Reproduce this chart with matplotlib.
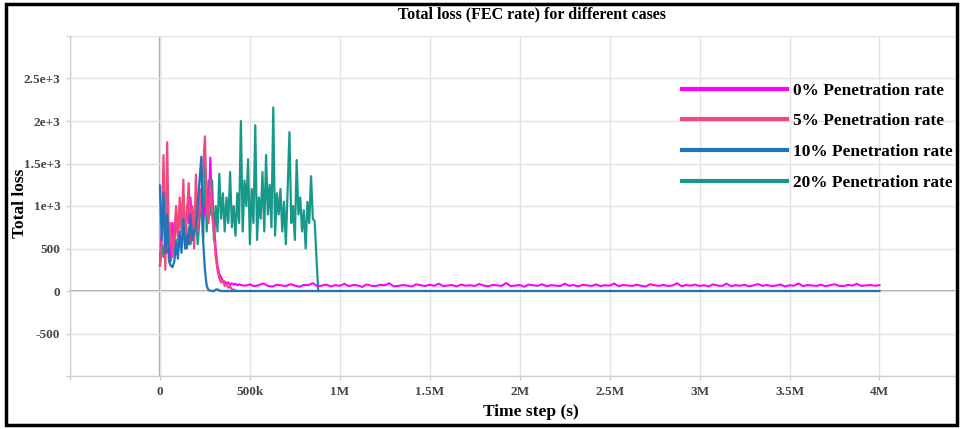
#!/usr/bin/env python3
import numpy as np
import matplotlib
matplotlib.use("Agg")
import matplotlib.pyplot as plt
from matplotlib.patches import Rectangle
from matplotlib.ticker import FixedLocator, FixedFormatter

# time grid step used for the early part of every run (seconds)
STEP = 10000
TAIL_STEP = 25000

series_names = ["0% Penetration rate", "5% Penetration rate",
                "10% Penetration rate", "20% Penetration rate"]
series_colors = ["#ff00ff", "#ee4a7c", "#1f74bb", "#17998a"]

# 0% penetration: early part (10k steps) + long noisy tail (25k steps)
loss_0_early = [350, 700, 1200, 500, 900, 600, 400, 800, 550, 900,
                650, 1000, 750, 850, 600, 1000, 800, 1100, 700, 950,
                800, 1100, 900, 1200, 850, 950, 1100, 850, 1570, 900,
                800, 500, 300, 200, 160, 120, 110, 90, 100, 70,
                90, 75, 85, 65, 80, 70]
loss_0_tail = [62, 78, 55, 70, 88, 60, 52, 74, 66, 58,
               80, 64, 50, 72, 68, 92, 57, 63, 75, 54,
               69, 61, 84, 56, 71, 65, 48, 77, 62, 58,
               73, 66, 90, 55, 60, 70, 64, 52, 79, 67,
               58, 74, 61, 86, 57, 65, 70, 53, 76, 62,
               68, 59, 82, 64, 55, 72, 66, 60, 94, 58,
               63, 71, 50, 75, 67, 61, 79, 56, 69, 64,
               58, 85, 62, 70, 54, 73, 66, 60, 77, 57,
               68, 63, 88, 55, 71, 65, 59, 74, 62, 52,
               80, 67, 61, 72, 58, 66, 91, 56, 70, 63,
               75, 59, 68, 54, 78, 64, 60, 86, 57, 69,
               62, 73, 55, 66, 81, 60, 71, 58, 64, 76,
               53, 68, 62, 89, 57, 70, 65, 60, 74, 56,
               67, 79, 61, 58, 72, 64, 84, 59, 66, 70,
               62, 68]

loss_5 = [300, 600, 1600, 250, 1750, 500, 800, 400, 700, 1000,
          600, 1100, 700, 1310, 500, 900, 1270, 600, 1000, 500,
          1370, 700, 1200, 900, 1450, 1820, 1000, 800, 1300, 900,
          700, 400, 250, 150, 100, 120, 60, 80, 40, 50,
          20, 15, 5, 0]

loss_10 = [1240, 600, 1150, 450, 900, 350, 300, 280, 350, 550,
           380, 700, 450, 850, 500, 650, 550, 900, 600, 700,
           750, 1000, 1300, 1580, 600, 250, 60, 10, 5, 0,
           0, 15, 20, 5, 0, 0, 0, 0, 0, 0,
           0, 0, 0, 0, 0, 0]
loss_10_end = 0

loss_20 = [300, 550, 400, 650, 450, 500, 350, 500, 450, 600,
           500, 650, 550, 700, 600, 500, 750, 550, 700, 650,
           900, 550, 850, 1050, 600, 1500, 700, 1300, 900, 1300,
           600, 1000, 700, 1380, 850, 1150, 700, 1100, 800, 1400,
           750, 1000, 650, 1150, 800, 2000, 700, 1300, 1000, 1550,
           550, 1200, 800, 1950, 600, 1100, 850, 1400, 700, 1600,
           900, 1250, 750, 2160, 650, 1150, 900, 1200, 700, 1050,
           550, 1200, 1870, 800, 1000, 600, 1540, 900, 1100, 700,
           950, 500, 1050, 800, 1350, 850, 820, 400, 0]

x_ticks = [-500000, 0, 500000, 1000000, 1500000, 2000000, 2500000,
           3000000, 3500000, 4000000]
x_labels = ["", "0", "500k", "1M", "1.5M", "2M", "2.5M", "3M", "3.5M", "4M"]
y_ticks = [-1000, -500, 0, 500, 1000, 1500, 2000, 2500, 3000]
y_labels = ["", "-500", "0", "500", "1e+3", "1.5e+3", "2e+3", "2.5e+3", ""]

SERIF = ["Liberation Serif", "DejaVu Serif"]

fig = plt.figure(figsize=(9.62, 4.29), dpi=100)
ax = fig.add_axes([70 / 962, 1 - 376 / 429, 885 / 962, 340 / 429])

t0 = np.concatenate([np.arange(len(loss_0_early)) * STEP,
                     (len(loss_0_early) - 1) * STEP + TAIL_STEP * (1 + np.arange(len(loss_0_tail)))])
y0 = np.array(loss_0_early + loss_0_tail)
t5 = np.arange(len(loss_5)) * STEP
t10 = np.append(np.arange(len(loss_10)) * STEP, 4000000)
y10 = np.append(loss_10, loss_10_end)
t20 = np.arange(len(loss_20)) * STEP

ax.plot(t0, y0, color=series_colors[0], lw=1.5, label=series_names[0], zorder=3)
ax.plot(t5, loss_5, color=series_colors[1], lw=1.6, label=series_names[1], zorder=4)
ax.plot(t10, y10, color=series_colors[2], lw=1.6, label=series_names[2], zorder=5)
ax.plot(t20, loss_20, color=series_colors[3], lw=1.6, label=series_names[3], zorder=2)

ax.set_xlim(-500000, 4420000)
ax.set_ylim(-1000, 3000)
ax.xaxis.set_major_locator(FixedLocator(x_ticks))
ax.xaxis.set_major_formatter(FixedFormatter(x_labels))
ax.yaxis.set_major_locator(FixedLocator(y_ticks))
ax.yaxis.set_major_formatter(FixedFormatter(y_labels))

ax.grid(True, color="#e3e3e3", lw=1.0, zorder=0)
ax.axhline(0, color="#a0a0a0", lw=1.4, zorder=1)
ax.axvline(0, color="#a0a0a0", lw=1.6, zorder=1)
for side in ["top", "right"]:
    ax.spines[side].set_visible(False)
for side in ["left", "bottom"]:
    ax.spines[side].set_color("#d0d0d0")
    ax.spines[side].set_linewidth(1.0)
ax.tick_params(length=3, color="#c8c8c8", pad=4)
for lab in ax.get_xticklabels() + ax.get_yticklabels():
    lab.set_family(SERIF)
    lab.set_fontweight("bold")
    lab.set_fontsize(9.5)
    lab.set_color("#444444")

leg = ax.legend(loc="upper left", bbox_to_anchor=(667 / 962, 1 - 67 / 429),
                bbox_transform=fig.transFigure, frameon=False,
                handlelength=6.05, handletextpad=0.35, labelspacing=0.85,
                prop={"family": SERIF, "weight": "bold", "size": 12.4})
for line in leg.get_lines():
    line.set_linewidth(3)

fig.text(532 / 962, 1 - 14 / 429, "Total loss (FEC rate) for different cases",
         ha="center", va="center", family=SERIF, weight="bold", fontsize=11.5)
fig.text(531 / 962, 1 - 412 / 429, "Time step (s)", ha="center", va="center",
         family=SERIF, weight="bold", fontsize=12.5)
fig.text(20 / 962, 1 - 203 / 429, "Total loss", ha="center", va="center",
         rotation=90, family=SERIF, weight="bold", fontsize=12.5)

fig.patches.append(Rectangle((6 / 962, 4 / 429), 951 / 962, 421 / 429,
                             transform=fig.transFigure, fill=False,
                             edgecolor="black", lw=2.5))

fig.savefig("out.png", dpi=100)
